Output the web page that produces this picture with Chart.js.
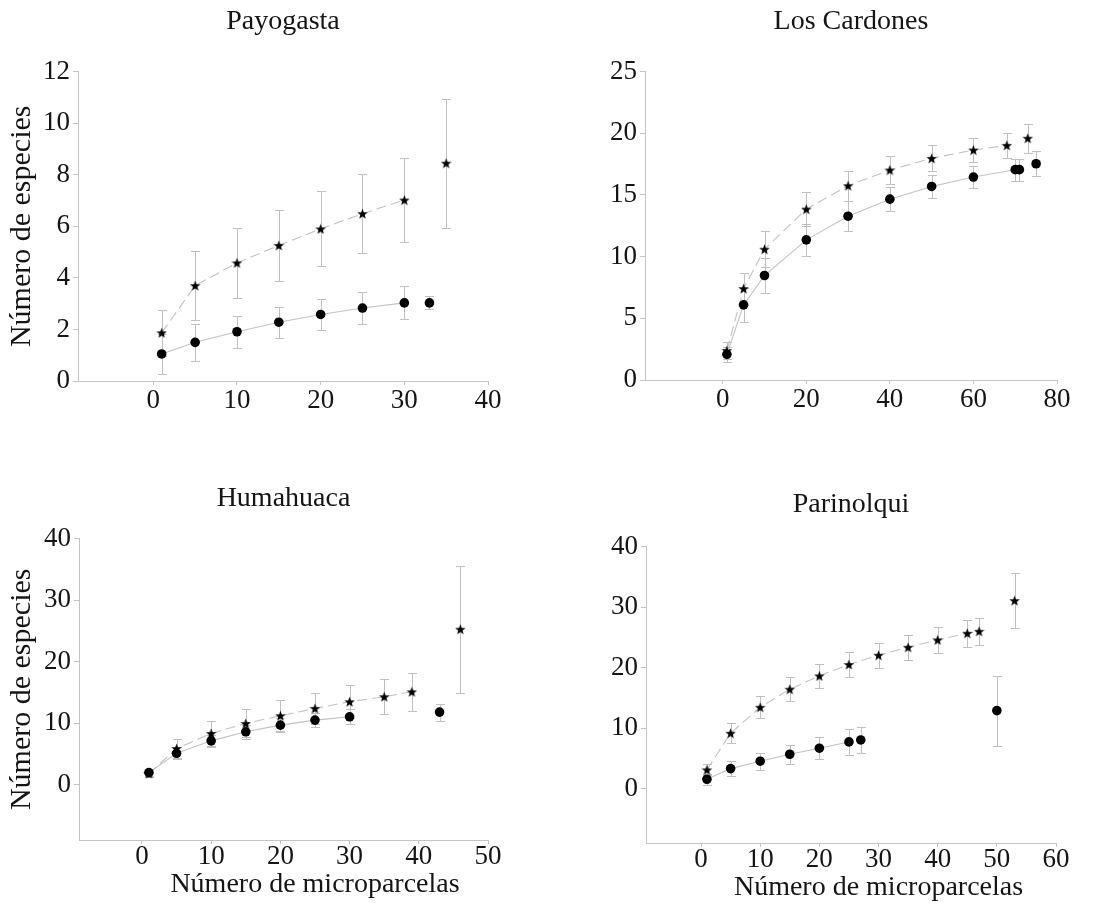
<!DOCTYPE html>
<html>
<head>
<meta charset="utf-8">
<script src="https://cdn.jsdelivr.net/npm/chart.js@4.4.1/dist/chart.umd.min.js"></script>
<style>
  html, body { margin: 0; padding: 0; background: #fff; }
  #page { position: relative; width: 1097px; height: 904px; overflow: hidden; }
  #page canvas { position: absolute; }
</style>
</head>
<body>
<div id="page">
  <canvas id="payogasta" width="548" height="430" style="left:0;top:0"></canvas>
  <canvas id="cardones" width="549" height="430" style="left:548px;top:0"></canvas>
  <canvas id="humahuaca" width="548" height="474" style="left:0;top:430px"></canvas>
  <canvas id="parinolqui" width="549" height="474" style="left:548px;top:430px"></canvas>
</div>
<script>
// -------- Data --------
// star = dashed series, dot = solid series; err = half length of the bar
// *Linked = how many of the first points are joined by the line

// Payogasta
const payoStarX = [1, 5, 10, 15, 20, 25, 30, 35];
const payoStarY = [1.87, 3.70, 4.58, 5.26, 5.90, 6.49, 7.02, 8.45];
const payoStarErr = [0.9, 1.35, 1.35, 1.37, 1.45, 1.53, 1.64, 2.5];
const payoStarLinked = 7;
const payoDotX = [1, 5, 10, 15, 20, 25, 30, 33];
const payoDotY = [1.05, 1.50, 1.91, 2.28, 2.58, 2.83, 3.03, 3.03];
const payoDotErr = [0.78, 0.72, 0.63, 0.6, 0.6, 0.62, 0.64, 0.25];
const payoDotLinked = 7;
const payoXTicks = [0, 10, 20, 30, 40];
const payoYTicks = [0, 2, 4, 6, 8, 10, 12];

// Los Cardones
const cardStarX = [1, 5, 10, 20, 30, 40, 50, 60, 68, 73];
const cardStarY = [2.4, 7.41, 10.6, 13.85, 15.75, 17.02, 17.97, 18.64, 19.02, 19.6];
const cardStarErr = [0.7, 1.3, 1.45, 1.35, 1.23, 1.13, 1.05, 1.0, 1.0, 1.17];
const cardStarLinked = 9;
const cardDotX = [1, 5, 10, 20, 30, 40, 50, 60, 70, 71, 75];
const cardDotY = [2.08, 6.09, 8.47, 11.36, 13.28, 14.66, 15.69, 16.45, 17.05, 17.05, 17.53];
const cardDotErr = [0.6, 1.35, 1.4, 1.3, 1.2, 1.0, 0.95, 0.9, 0.9, 0.9, 1.0];
const cardDotLinked = 9;
const cardXTicks = [0, 20, 40, 60, 80];
const cardYTicks = [0, 5, 10, 15, 20, 25];

// Humahuaca
const humaStarX = [1, 5, 10, 15, 20, 25, 30, 35, 39, 46];
const humaStarY = [1.8, 5.87, 8.32, 9.95, 11.2, 12.39, 13.48, 14.29, 15.1, 25.27];
const humaStarErr = [0.5, 1.47, 2.0, 2.28, 2.5, 2.56, 2.66, 2.88, 3.05, 10.3];
const humaStarLinked = 9;
const humaDotX = [1, 5, 10, 15, 20, 25, 30, 43];
const humaDotY = [1.96, 5.1, 7.12, 8.59, 9.67, 10.49, 11.03, 11.79];
const humaDotErr = [0.5, 1.0, 1.0, 1.1, 1.1, 1.1, 1.2, 1.4];
const humaDotLinked = 7;
const humaXTicks = [0, 10, 20, 30, 40, 50];
const humaYTicks = [0, 10, 20, 30, 40];

// Parinolqui
const pariStarX = [1, 5, 10, 15, 20, 25, 30, 35, 40, 45, 47, 53];
const pariStarY = [3.09, 9.15, 13.44, 16.42, 18.62, 20.5, 22.04, 23.36, 24.57, 25.67, 26.0, 31.07];
const pariStarErr = [0.9, 1.65, 1.85, 2.0, 2.05, 2.05, 2.1, 2.1, 2.2, 2.25, 2.25, 4.6];
const pariStarLinked = 11;
const pariDotX = [1, 5, 10, 15, 20, 25, 27, 50];
const pariDotY = [1.54, 3.3, 4.52, 5.67, 6.67, 7.71, 8.04, 12.89];
const pariDotErr = [0.9, 1.25, 1.4, 1.6, 1.85, 2.1, 2.15, 5.8];
const pariDotLinked = 6;
const pariXTicks = [0, 10, 20, 30, 40, 50, 60];
const pariYTicks = [0, 10, 20, 30, 40];

const yLabel = 'Número de especies';
const xLabel = 'Número de microparcelas';

// -------- Styling --------
const FONT = "'Liberation Serif', 'DejaVu Serif', serif";
const LINE_GREY = '#c2c2c2';
const BAR_GREY = '#c0c0c0';
const AXIS_GREY = '#c4c4c4';
const TEXT = '#151515';

Chart.defaults.font.family = FONT;
Chart.defaults.color = TEXT;

// filled five-point star used as point marker
function makeStar(size) {
  const c = document.createElement('canvas');
  c.width = size; c.height = size;
  const g = c.getContext('2d');
  const r = size / 2, ri = r * 0.42;
  g.beginPath();
  for (let i = 0; i < 10; i++) {
    const rad = i % 2 === 0 ? r : ri;
    const a = -Math.PI / 2 + i * Math.PI / 5;
    const px = r + rad * Math.cos(a), py = r + rad * Math.sin(a) + 0.5;
    if (i === 0) g.moveTo(px, py); else g.lineTo(px, py);
  }
  g.closePath();
  g.fillStyle = '#000';
  g.fill();
  return c;
}
const starMarker = makeStar(11);

// vertical error bars with caps, drawn under the markers
const errorBars = {
  id: 'errorBars',
  beforeDatasetsDraw(chart) {
    const { ctx, scales: { x, y } } = chart;
    ctx.save();
    ctx.strokeStyle = BAR_GREY;
    ctx.lineWidth = 1;
    chart.data.datasets.forEach(ds => {
      if (!ds.errors) return;
      ds.data.forEach((p, i) => {
        const px = Math.round(x.getPixelForValue(p.x)) + 0.5;
        const top = Math.round(y.getPixelForValue(p.y + ds.errors[i])) + 0.5;
        const bot = Math.round(y.getPixelForValue(p.y - ds.errors[i])) + 0.5;
        ctx.beginPath();
        ctx.moveTo(px, top); ctx.lineTo(px, bot);
        ctx.moveTo(px - 4.5, top); ctx.lineTo(px + 4.5, top);
        ctx.moveTo(px - 4.5, bot); ctx.lineTo(px + 4.5, bot);
        ctx.stroke();
      });
    });
    ctx.restore();
  }
};

// x title centred over the non-negative part of the axis
const xTitle = {
  id: 'xTitle',
  afterDraw(chart, args, opts) {
    if (!opts.text) return;
    const { ctx, chartArea, scales: { x } } = chart;
    const cx = (x.getPixelForValue(0) + chartArea.right) / 2;
    ctx.save();
    ctx.font = opts.size + 'px ' + FONT;
    ctx.fillStyle = TEXT;
    ctx.textAlign = 'center';
    ctx.textBaseline = 'middle';
    ctx.fillText(opts.text, cx, chartArea.bottom + opts.offset);
    ctx.restore();
  }
};

function points(xs, ys) {
  return xs.map((v, i) => ({ x: v, y: ys[i] }));
}

function series(xs, ys, errs, linked, dashed) {
  return {
    data: points(xs, ys),
    errors: errs,
    showLine: true,
    borderColor: LINE_GREY,
    borderWidth: 1.1,
    borderDash: dashed ? [10, 5] : [],
    segment: {
      borderColor: c => c.p0DataIndex >= linked - 1 ? 'rgba(0,0,0,0)' : LINE_GREY
    },
    pointStyle: dashed ? starMarker : 'circle',
    pointRadius: dashed ? 5 : 4.8,
    pointBackgroundColor: '#000',
    pointBorderColor: '#000',
    pointBorderWidth: 0,
    tension: 0
  };
}

function makeChart(id, p) {
  return new Chart(document.getElementById(id), {
    type: 'scatter',
    data: { datasets: [p.dots, p.stars] },
    options: {
      responsive: false,
      animation: false,
      events: [],
      layout: { padding: { left: 0, right: p.padRight, top: 0, bottom: 0 } },
      plugins: {
        legend: { display: false },
        tooltip: { enabled: false },
        title: {
          display: true,
          text: p.title,
          fullSize: false,
          color: TEXT,
          font: { size: 28, weight: 'normal' },
          padding: { top: p.titleTop, bottom: p.titleBottom }
        },
        xTitle: { text: p.xTitle, size: 28, offset: 45 }
      },
      scales: {
        x: {
          type: 'linear',
          min: p.xMin, max: p.xMax,
          afterBuildTicks: s => { s.ticks = p.xTicks.map(v => ({ value: v })); },
          afterFit: s => { s.height = p.xHeight; },
          grid: { display: true, drawOnChartArea: false, tickLength: 4, color: AXIS_GREY },
          border: { color: AXIS_GREY, width: 1 },
          ticks: { font: { size: 27 }, color: TEXT, padding: p.xPad, maxRotation: 0 }
        },
        y: {
          type: 'linear',
          min: p.yMin, max: p.yMax,
          afterBuildTicks: s => { s.ticks = p.yTicks.map(v => ({ value: v })); },
          afterFit: s => { s.width = p.yWidth; },
          grid: { display: true, drawOnChartArea: false, tickLength: 5, color: AXIS_GREY },
          border: { color: AXIS_GREY, width: 1 },
          ticks: { font: { size: 27 }, color: TEXT, padding: 3 },
          title: {
            display: !!p.yTitle,
            text: p.yTitle,
            color: TEXT,
            font: { size: 30 },
            padding: { top: 4, bottom: 0 }
          }
        }
      }
    },
    plugins: [errorBars, xTitle]
  });
}

// -------- Panels --------
makeChart('payogasta', {
  title: 'Payogasta', titleTop: 5, titleBottom: 33,
  stars: series(payoStarX, payoStarY, payoStarErr, payoStarLinked, true),
  dots: series(payoDotX, payoDotY, payoDotErr, payoDotLinked, false),
  xMin: -9, xMax: 40, xTicks: payoXTicks,
  yMin: 0, yMax: 12, yTicks: payoYTicks,
  yWidth: 78, xHeight: 49, padRight: 60, xPad: 0,
  yTitle: yLabel
});

makeChart('cardones', {
  title: 'Los Cardones', titleTop: 5, titleBottom: 33,
  stars: series(cardStarX, cardStarY, cardStarErr, cardStarLinked, true),
  dots: series(cardDotX, cardDotY, cardDotErr, cardDotLinked, false),
  xMin: -18.6, xMax: 80, xTicks: cardXTicks,
  yMin: 0, yMax: 25, yTicks: cardYTicks,
  yWidth: 97, xHeight: 50, padRight: 40, xPad: 0
});

makeChart('humahuaca', {
  title: 'Humahuaca', titleTop: 52, titleBottom: 23,
  stars: series(humaStarX, humaStarY, humaStarErr, humaStarLinked, true),
  dots: series(humaDotX, humaDotY, humaDotErr, humaDotLinked, false),
  xMin: -9.1, xMax: 50, xTicks: humaXTicks,
  yMin: -9, yMax: 40, yTicks: humaYTicks,
  yWidth: 79, xHeight: 64, padRight: 60, xPad: -3,
  yTitle: yLabel, xTitle: xLabel
});

makeChart('parinolqui', {
  title: 'Parinolqui', titleTop: 58, titleBottom: 25,
  stars: series(pariStarX, pariStarY, pariStarErr, pariStarLinked, true),
  dots: series(pariDotX, pariDotY, pariDotErr, pariDotLinked, false),
  xMin: -9.3, xMax: 60, xTicks: pariXTicks,
  yMin: -9, yMax: 40, yTicks: pariYTicks,
  yWidth: 98, xHeight: 61, padRight: 41, xPad: -3,
  xTitle: xLabel
});
</script>
</body>
</html>
